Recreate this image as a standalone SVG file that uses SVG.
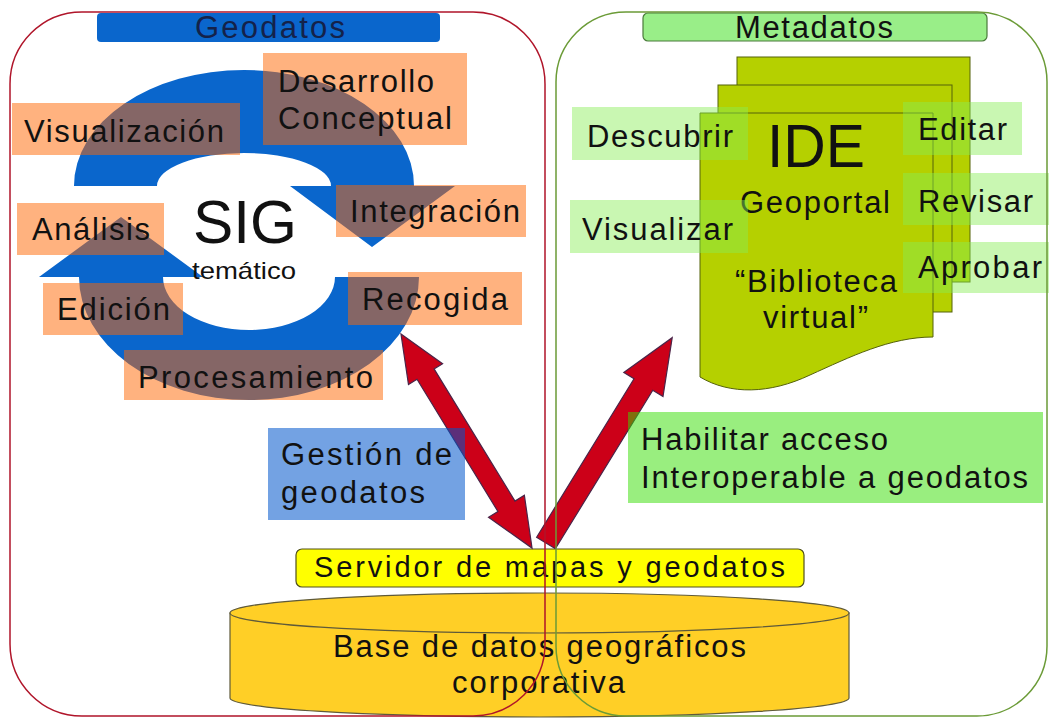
<svg xmlns="http://www.w3.org/2000/svg" width="1049" height="718" viewBox="0 0 1049 718">
<style>
.t{font-family:"Liberation Sans",Arial,sans-serif;font-size:31px;fill:#111}
.big{font-size:61px}
.ob{fill:#ff6600;fill-opacity:.5}
.gb{fill:#88ee55;fill-opacity:.45}
.doc{fill:#b5d000;stroke:#55620a;stroke-width:1}
.arr{fill:#cc0018;stroke:#4a2448;stroke-width:1.2}
.cyc{fill:#0a66cc}
</style>
<rect width="1049" height="718" fill="#ffffff"/>

<g id="base-datos">
  <path d="M230,613 L230,698 A309.5,19 0 0 0 849,698 L849,613 Z" fill="#ffcf26" stroke="#5f5a3a" stroke-width="1.2"/>
  <ellipse cx="539.5" cy="613" rx="309.5" ry="20" fill="#ffcf26" stroke="#5f5a3a" stroke-width="1.2"/>
  <text class="t" x="333" y="657" textLength="413" lengthAdjust="spacing">Base de datos geográficos</text>
  <text class="t" x="452" y="693" textLength="173" lengthAdjust="spacing">corporativa</text>
</g>

<g id="servidor">
  <rect x="296" y="549" width="508" height="38" rx="6" fill="#ffff00" stroke="#50501a" stroke-width="1.2"/>
  <text class="t" x="314" y="577" style="font-size:29px" textLength="471" lengthAdjust="spacing">Servidor de mapas y geodatos</text>
</g>

<g id="ciclo-sig">
  <path class="cyc" d="M74,186 A170,116 0 0 1 414,186 L455,186 L372,247 L290,186 L331,186 A87,33 0 0 0 157,186 Z"/>
  <path class="cyc" d="M419,277 A170,123 0 0 1 79,277 L39,277 L121,217 L203,277 L163,277 A86,53 0 0 0 335,277 Z"/>
  <text class="t big" x="193" y="243" textLength="104" lengthAdjust="spacingAndGlyphs">SIG</text>
  <text class="t" x="192" y="279" style="font-size:24px" textLength="104" lengthAdjust="spacingAndGlyphs">temático</text>
</g>

<g id="desarrollo">
  <rect class="ob" x="263" y="53" width="204" height="92"/>
  <text class="t" x="278" y="92" textLength="156" lengthAdjust="spacing">Desarrollo</text>
  <text class="t" x="278" y="129" textLength="174" lengthAdjust="spacing">Conceptual</text>
</g>
<g id="visualizacion">
  <rect class="ob" x="12" y="103" width="228" height="52"/>
  <text class="t" x="24" y="142" textLength="200" lengthAdjust="spacing">Visualización</text>
</g>
<g id="integracion">
  <rect class="ob" x="336" y="185" width="190" height="52"/>
  <text class="t" x="350" y="222" textLength="170" lengthAdjust="spacing">Integración</text>
</g>
<g id="analisis">
  <rect class="ob" x="17" y="203" width="147" height="52"/>
  <text class="t" x="32" y="240" textLength="118" lengthAdjust="spacing">Análisis</text>
</g>
<g id="edicion">
  <rect class="ob" x="43" y="283" width="140" height="52"/>
  <text class="t" x="57" y="320" textLength="113" lengthAdjust="spacing">Edición</text>
</g>
<g id="recogida">
  <rect class="ob" x="348" y="272" width="174" height="53"/>
  <text class="t" x="362" y="310" textLength="146" lengthAdjust="spacing">Recogida</text>
</g>
<g id="procesamiento">
  <rect class="ob" x="124" y="350" width="259" height="50"/>
  <text class="t" x="138" y="388" textLength="235" lengthAdjust="spacing">Procesamiento</text>
</g>

<g id="ide">
  <rect class="doc" x="737" y="57" width="233" height="225"/>
  <rect class="doc" x="718" y="85" width="234" height="227"/>
  <path class="doc" d="M700,113 H933 V337 C890,337 850,357 810,375 C770,394 730,395 700,377 Z"/>
  <text class="t big" x="767" y="167" textLength="98" lengthAdjust="spacingAndGlyphs">IDE</text>
  <text class="t" x="740" y="213" textLength="150" lengthAdjust="spacing">Geoportal</text>
  <text class="t" x="735" y="292" textLength="162" lengthAdjust="spacing">“Biblioteca</text>
  <text class="t" x="763" y="328" textLength="105" lengthAdjust="spacing">virtual”</text>
</g>
<g id="descubrir">
  <rect class="gb" x="572" y="107" width="176" height="53"/>
  <text class="t" x="587" y="147" textLength="146" lengthAdjust="spacing">Descubrir</text>
</g>
<g id="visualizar">
  <rect class="gb" x="570" y="200" width="178" height="53"/>
  <text class="t" x="582" y="240" textLength="151" lengthAdjust="spacing">Visualizar</text>
</g>
<g id="editar">
  <rect class="gb" x="903" y="102" width="119" height="53"/>
  <text class="t" x="918" y="140" textLength="89" lengthAdjust="spacing">Editar</text>
</g>
<g id="revisar">
  <rect class="gb" x="903" y="173" width="146" height="52"/>
  <text class="t" x="918" y="212" textLength="115" lengthAdjust="spacing">Revisar</text>
</g>
<g id="aprobar">
  <rect class="gb" x="903" y="242" width="146" height="51"/>
  <text class="t" x="918" y="278" textLength="124" lengthAdjust="spacing">Aprobar</text>
</g>

<g id="connectors">
  <polygon class="arr" transform="translate(401,334) rotate(58.53)" points="0,0 47,-20 47,-10 202,-10 202,-21 251,0 202,21 202,10 47,10 47,20"/>
  <polygon class="arr" transform="translate(546,543) rotate(-58.42)" points="0,-11 186,-11 186,-23 241,0 186,23 186,11 0,11"/>
</g>

<g id="gestion">
  <rect x="268" y="428" width="197" height="92" fill="#0055cc" fill-opacity="0.55"/>
  <text class="t" x="281" y="465" textLength="171" lengthAdjust="spacing">Gestión de</text>
  <text class="t" x="281" y="503" textLength="144" lengthAdjust="spacing">geodatos</text>
</g>
<g id="habilitar">
  <rect x="628" y="412" width="415" height="91" fill="#33dd00" fill-opacity="0.5"/>
  <text class="t" x="641" y="450" textLength="247" lengthAdjust="spacing">Habilitar acceso</text>
  <text class="t" x="641" y="488" textLength="387" lengthAdjust="spacing">Interoperable a geodatos</text>
</g>

<g id="geodatos-header">
  <rect x="97" y="13" width="343" height="29" rx="4" fill="#0a66cc"/>
  <text class="t" x="195" y="38" style="fill:#14224a" textLength="150" lengthAdjust="spacing">Geodatos</text>
</g>
<g id="metadatos-header">
  <rect x="643" y="13" width="344" height="28" rx="5" fill="#99ee88" stroke="#4a7a3a" stroke-width="1.2"/>
  <text class="t" x="735" y="38" textLength="158" lengthAdjust="spacing">Metadatos</text>
</g>

<g id="geodatos-panel">
  <rect x="10" y="12" width="535" height="704" rx="72" fill="none" stroke="#b0152a" stroke-width="1.5"/>
</g>
<g id="metadatos-panel">
  <rect x="556" y="12" width="491" height="704" rx="70" fill="none" stroke="#6b9b37" stroke-width="1.5"/>
</g>
</svg>
